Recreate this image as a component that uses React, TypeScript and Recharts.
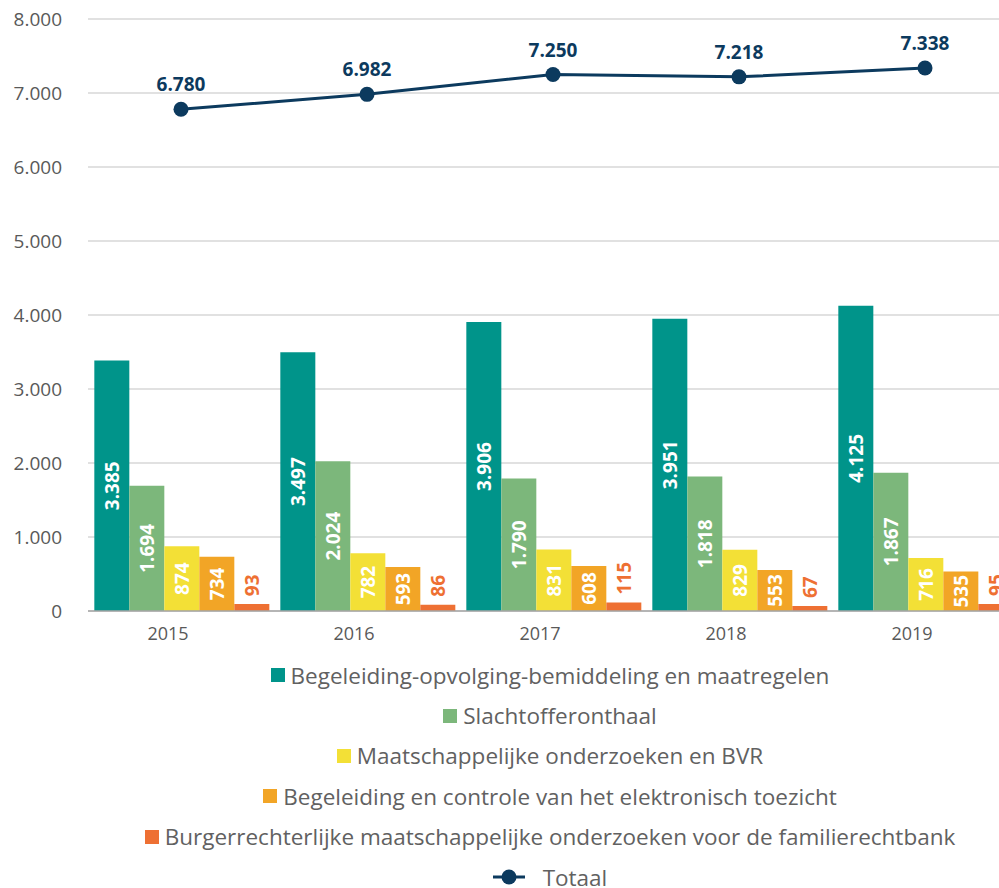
import React from 'react';
import {
  ComposedChart,
  Bar,
  Line,
  XAxis,
  YAxis,
  CartesianGrid,
  Legend,
  LabelList,
} from 'recharts';

const years = ['2015', '2016', '2017', '2018', '2019'];
const begeleiding = [3385, 3497, 3906, 3951, 4125];
const slachtoffer = [1694, 2024, 1790, 1818, 1867];
const maatschappelijk = [874, 782, 831, 829, 716];
const elektronisch = [734, 593, 608, 553, 535];
const burgerrechterlijk = [93, 86, 115, 67, 95];
const totaal = [6780, 6982, 7250, 7218, 7338];
const yTicks = [0, 1000, 2000, 3000, 4000, 5000, 6000, 7000, 8000];

const series = [
  { key: 'begeleiding', name: 'Begeleiding-opvolging-bemiddeling en maatregelen', color: '#00948a', values: begeleiding, inside: true },
  { key: 'slachtoffer', name: 'Slachtofferonthaal', color: '#7cb77b', values: slachtoffer, inside: true },
  { key: 'maatschappelijk', name: 'Maatschappelijke onderzoeken en BVR', color: '#f3e036', values: maatschappelijk, inside: true },
  { key: 'elektronisch', name: 'Begeleiding en controle van het elektronisch toezicht', color: '#f2a526', values: elektronisch, inside: true },
  { key: 'burgerrechterlijk', name: 'Burgerrechterlijke maatschappelijke onderzoeken voor de familierechtbank', color: '#ee7033', values: burgerrechterlijk, inside: false },
];

const NAVY = '#0c3a5e';
const FONT = '"Open Sans", sans-serif';

const data = years.map((year, i) => {
  const row: Record<string, string | number> = { year, totaal: totaal[i] };
  series.forEach((s) => {
    row[s.key] = s.values[i];
  });
  return row;
});

// thousands separator with a dot, like the original
const fmt = (v: number | string) =>
  String(v).replace(/\B(?=(\d{3})+(?!\d))/g, '.');

const box = (props: any) => {
  const vb = props.viewBox || {};
  return {
    x: Number(vb.x ?? props.x),
    y: Number(vb.y ?? props.y),
    width: Number(vb.width ?? props.width ?? 0),
    height: Number(vb.height ?? props.height ?? 0),
  };
};

const InsideLabel = (props: any) => {
  const { x, y, width, height } = box(props);
  const cx = x + width / 2;
  const cy = y + height / 2;
  return (
    <text
      x={cx}
      y={cy}
      transform={`rotate(-90 ${cx} ${cy})`}
      textAnchor="middle"
      dominantBaseline="central"
      fill="#ffffff"
      fontFamily={FONT}
      fontWeight={700}
      fontSize={19}
    >
      {fmt(props.value)}
    </text>
  );
};

const AboveLabel = (props: any) => {
  const { x, y, width } = box(props);
  const cx = x + width / 2;
  const ty = y - 8;
  return (
    <text
      x={cx}
      y={ty}
      transform={`rotate(-90 ${cx} ${ty})`}
      textAnchor="start"
      dominantBaseline="central"
      fill="#ee7033"
      fontFamily={FONT}
      fontWeight={700}
      fontSize={19}
    >
      {fmt(props.value)}
    </text>
  );
};

const TotalLabel = (props: any) => {
  const { x, y } = box(props);
  return (
    <text
      x={x}
      y={y - 18}
      textAnchor="middle"
      fill={NAVY}
      fontFamily={FONT}
      fontWeight={700}
      fontSize={19}
    >
      {fmt(props.value)}
    </text>
  );
};

const renderLegend = () => (
  <div
    style={{
      display: 'flex',
      flexDirection: 'column',
      alignItems: 'center',
      fontFamily: FONT,
      fontSize: 22.5,
      color: '#616161',
    }}
  >
    {series.map((s) => (
      <div key={s.key} style={{ height: 40.4, display: 'flex', alignItems: 'center', whiteSpace: 'nowrap' }}>
        <span style={{ width: 14, height: 14, background: s.color, marginRight: 6, display: 'inline-block' }} />
        {s.name}
      </div>
    ))}
    <div style={{ height: 40.4, display: 'flex', alignItems: 'center' }}>
      <svg width={32} height={16}>
        <line x1={0} x2={32} y1={8} y2={8} stroke={NAVY} strokeWidth={3} />
        <circle cx={16} cy={8} r={7.5} fill={NAVY} />
      </svg>
      <span style={{ marginLeft: 18 }}>Totaal</span>
    </div>
  </div>
);

export default function App() {
  return (
    <div
      style={{
        position: 'absolute',
        left: 0,
        top: 0,
        width: 999,
        height: 888,
        overflow: 'hidden',
        background: '#ffffff',
      }}
    >
      <ComposedChart
        width={1100}
        height={888}
        data={data}
        margin={{ top: 19, right: 82, bottom: 247, left: 0 }}
        barCategoryGap="3.4%"
        barGap={0}
      >
        <CartesianGrid vertical={false} stroke="#c4c4c4" strokeWidth={1.2} />
        <XAxis
          dataKey="year"
          height={30}
          tickSize={0}
          tickMargin={16}
          axisLine={{ stroke: '#a6a6a6', strokeWidth: 1.5 }}
          tickLine={false}
          tick={{ fill: '#595959', fontSize: 18, fontFamily: FONT, dx: -13 }}
        />
        <YAxis
          width={88}
          domain={[0, 8000]}
          ticks={yTicks}
          interval={0}
          tickFormatter={fmt}
          tickSize={0}
          tickMargin={26}
          axisLine={false}
          tickLine={false}
          tick={{ fill: '#595959', fontSize: 19, fontFamily: FONT }}
        />
        {series.map((s) => (
          <Bar key={s.key} dataKey={s.key} name={s.name} fill={s.color} isAnimationActive={false}>
            <LabelList dataKey={s.key} content={s.inside ? InsideLabel : AboveLabel} />
          </Bar>
        ))}
        <Line
          dataKey="totaal"
          name="Totaal"
          stroke={NAVY}
          strokeWidth={3}
          dot={{ r: 7.5, fill: NAVY, stroke: NAVY, strokeWidth: 0 }}
          activeDot={false}
          isAnimationActive={false}
        >
          <LabelList dataKey="totaal" content={TotalLabel} />
        </Line>
        <Legend
          layout="vertical"
          align="center"
          verticalAlign="middle"
          content={renderLegend}
          wrapperStyle={{ top: 655, left: 0, width: 1100, bottom: 'auto' }}
        />
      </ComposedChart>
    </div>
  );
}
